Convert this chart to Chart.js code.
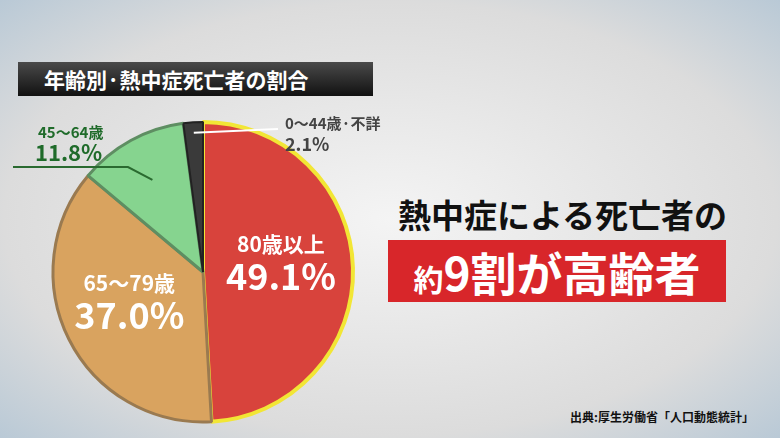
<!DOCTYPE html>
<html><head><meta charset="utf-8">
<script src="https://cdn.jsdelivr.net/npm/chart.js@4"></script>
<style>
body{margin:0;width:780px;height:438px;overflow:hidden;font-family:"Noto Sans CJK JP",sans-serif;
background:radial-gradient(ellipse at 50% 50%,#f4f4f4 0%,#dcdcdc 70%,#b9c9d6 100%);position:relative}
.t{position:absolute;font-weight:bold;white-space:nowrap}
#title{left:18px;top:62px;width:355px;height:34px;background:linear-gradient(#4a4a4a,#111);color:#fff;font-size:21px;line-height:34px;padding-left:26px;box-sizing:border-box}
#h1{left:398px;top:190px;font-size:33px;color:#111}
#h2{left:388px;top:240px;width:338px;height:62px;background:#d8262a;color:#fff;font-size:46px;line-height:62px;text-align:center}
#h2 small{font-size:30px}
#src{left:570px;top:408px;font-size:12px;color:#111}
#wrap{position:absolute;left:0;top:110px;width:400px;height:328px}
</style></head><body>
<div id="title" class="t">年齢別·熱中症死亡者の割合</div>
<div id="h1" class="t">熱中症による死亡者の</div>
<div id="h2" class="t"><small>約</small>9割が高齢者</div>
<div id="src" class="t">出典:厚生労働省「人口動態統計」</div>
<div id="wrap"><canvas id="c"></canvas></div>
<script>
const labels = ['80歳以上', '65～79歳', '45～64歳', '0～44歳·不詳'];
const values = [49.1, 37.0, 11.8, 2.1];
const colors = ['#d8433c', '#d9a35f', '#86d48f', '#3a3a3a'];
const borders = ['#f2e635', '#9a7a50', '#5e8e62', '#222'];

const labelPlugin = {
  id: 'labels',
  afterDatasetsDraw(chart) {
    const ctx = chart.ctx;
    const arcs = chart.getDatasetMeta(0).data;
    ctx.save();
    ctx.textAlign = 'center';
    [[0, 0.52], [1, 0.55]].forEach(([i, f]) => {
      const a = arcs[i], m = (a.startAngle + a.endAngle) / 2;
      const x = a.x + Math.cos(m) * a.outerRadius * f, y = a.y + Math.sin(m) * a.outerRadius * f;
      ctx.fillStyle = '#fff';
      ctx.font = 'bold 21px "Noto Sans CJK JP"';
      ctx.fillText(labels[i], x, y - 18);
      ctx.font = 'bold 36px "Noto Sans CJK JP"';
      ctx.fillText(values[i].toFixed(1) + '%', x, y + 20);
    });
    ctx.lineWidth = 2;
    const a2 = arcs[2], m2 = (a2.startAngle + a2.endAngle) / 2;
    ctx.strokeStyle = '#2a6a30';
    ctx.beginPath();
    ctx.moveTo(a2.x + Math.cos(m2) * a2.outerRadius * 0.7, a2.y + Math.sin(m2) * a2.outerRadius * 0.7);
    ctx.lineTo(a2.x - 75, a2.y - 105);
    ctx.lineTo(a2.x - 190, a2.y - 105);
    ctx.stroke();
    const a3 = arcs[3], m3 = (a3.startAngle + a3.endAngle) / 2;
    ctx.strokeStyle = '#fff';
    ctx.beginPath();
    ctx.moveTo(a3.x + Math.cos(m3) * a3.outerRadius * 0.93, a3.y + Math.sin(m3) * a3.outerRadius * 0.93);
    ctx.lineTo(a3.x + 75, a3.y - 143);
    ctx.stroke();
    ctx.textAlign = 'left';
    ctx.fillStyle = '#1f6b2a';
    ctx.font = 'bold 15px "Noto Sans CJK JP"';
    ctx.fillText(labels[2], a2.x - 165, a2.y - 134);
    ctx.font = 'bold 22px "Noto Sans CJK JP"';
    ctx.fillText(values[2].toFixed(1) + '%', a2.x - 168, a2.y - 111);
    ctx.fillStyle = '#444';
    ctx.font = 'bold 15px "Noto Sans CJK JP"';
    ctx.fillText(labels[3], a3.x + 82, a3.y - 143);
    ctx.font = 'bold 18px "Noto Sans CJK JP"';
    ctx.fillText(values[3].toFixed(1) + '%', a3.x + 82, a3.y - 121);
    ctx.restore();
  }
};

new Chart(document.getElementById('c'), {
  type: 'pie',
  data: { labels, datasets: [{ data: values, backgroundColor: colors, borderColor: borders, borderWidth: [4, 3, 3, 2] }] },
  options: {
    responsive: true, maintainAspectRatio: false, animation: false,
    layout: { padding: { left: 51, right: 45, top: 10, bottom: 14 } },
    plugins: { legend: { display: false }, tooltip: { enabled: false } }
  },
  plugins: [labelPlugin]
});
</script></body></html>
